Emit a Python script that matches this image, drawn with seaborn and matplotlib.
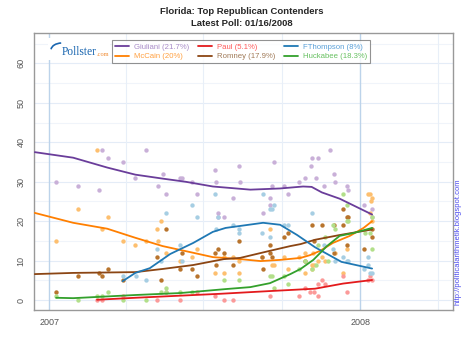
import pandas as pd
import numpy as np
import matplotlib
matplotlib.use("Agg")
import matplotlib.pyplot as plt
import matplotlib.dates as mdates
from matplotlib.lines import Line2D
from matplotlib.patches import Arc, Rectangle
import seaborn as sns

# poll results: day offsets from 2007-01-01 and values (%)
giuliani_days = [8, 34, 58, 62, 69, 86, 101, 113, 133, 128, 137, 154, 156, 167, 173, 195, 196, 198, 205, 198,
                 223, 224, 216, 264, 262, 259, 275, 280, 293, 300, 309, 307, 259, 251, 316, 329, 313, 323,
                 334, 336, 349, 351, 370, 379, 379]
giuliani_vals = [30, 29, 28, 38, 36, 35, 31, 38, 32, 29, 27, 31, 31, 30, 27, 33, 30, 22, 21, 21,
                 34, 30, 26, 35, 29, 26, 29, 27, 30, 31, 36, 34, 24, 22, 36, 38, 31, 29,
                 32, 30, 29, 28, 24, 21, 23]

mccain_days = [56, 34, 69, 8, 62, 86, 101, 113, 127, 131, 128, 137, 154, 173, 167, 195, 205, 205, 216, 223,
               223, 250, 259, 262, 264, 275, 280, 300, 293, 309, 311, 374, 377, 379, 378, 377, 300, 310,
               316, 320, 336, 309, 324, 345, 350, 379]
mccain_vals = [38, 23, 21, 15, 18, 15, 14, 15, 18, 20, 15, 12, 10, 13, 11, 7, 7, 11, 11, 10,
               7, 11, 18, 9, 9, 11, 8, 7, 11, 9, 9, 27, 27, 26, 25, 22, 12, 12,
               10, 11, 12, 8, 10, 7, 13, 20]

paul_days = [56, 62, 86, 127, 137, 154, 173, 195, 205, 216, 259, 293, 311, 315, 320, 324, 316, 306,
             345, 350, 374, 377, 379, 300]
paul_vals = [0, 0, 1, 0, 2, 0, 2, 1, 0, 0, 1, 1, 2, 4, 5, 4, 1, 2,
             6, 2, 5, 6, 5, 3]

romney_days = [8, 34, 58, 69, 62, 86, 137, 127, 131, 156, 154, 167, 173, 195, 198, 196, 205, 223, 216, 250,
               259, 259, 262, 251, 275, 280, 300, 309, 311, 320, 334, 345, 349, 351, 345, 350, 370, 379,
               379, 334]
romney_vals = [2, 6, 7, 8, 6, 5, 18, 11, 5, 12, 8, 8, 6, 12, 13, 9, 12, 15, 9, 11,
               14, 12, 11, 8, 16, 17, 10, 19, 15, 19, 19, 23, 21, 21, 19, 14, 13, 16,
               18, 12]

thompson_days = [86, 137, 102, 113, 127, 131, 154, 156, 167, 173, 195, 198, 196, 216, 223, 223, 251, 259,
                 262, 264, 259, 250, 275, 280, 309, 322, 333, 336, 345, 349, 351, 374, 374, 379, 377, 370]
thompson_vals = [6, 22, 6, 5, 13, 10, 14, 10, 24, 21, 27, 21, 18, 19, 18, 17, 27, 23,
                 23, 24, 16, 17, 19, 19, 22, 14, 13, 10, 11, 10, 10, 11, 9, 7, 7, 8]

huckabee_days = [8, 34, 56, 62, 69, 86, 137, 137, 131, 113, 154, 167, 205, 223, 259, 262, 264, 275, 280,
                 293, 300, 309, 345, 349, 349, 351, 333, 336, 324, 316, 313, 327, 371, 377, 379, 379]
huckabee_vals = [1, 0, 1, 1, 2, 0, 3, 2, 2, 0, 2, 2, 5, 5, 6, 6, 3, 6, 4,
                 8, 10, 8, 27, 24, 20, 20, 19, 18, 16, 14, 9, 10, 17, 17, 13, 21]

# trend estimates
giuliani_trend_days = [-17, 28, 68, 101, 133, 160, 192, 236, 271, 298, 308, 320, 341, 379]
giuliani_trend_vals = [37.5, 36.1, 33.6, 31.8, 30.8, 30.0, 28.8, 28.0, 28.3, 28.8, 28.7, 27.3, 25.7, 21.7]
mccain_trend_days = [-17, 28, 68, 101, 133, 169, 192, 224, 248, 271, 295, 306, 318, 333, 353, 369, 379]
mccain_trend_vals = [22.1, 19.6, 18.1, 15.8, 13.7, 12.0, 10.9, 10.4, 9.9, 10.2, 10.7, 11.4, 12.5, 14.5, 16.3, 18.3, 20.0]
paul_trend_days = [56, 101, 200, 259, 312, 345, 379]
paul_trend_vals = [0.1, 0.6, 1.6, 2.3, 2.9, 4.2, 5.1]
romney_trend_days = [-17, 28, 101, 133, 169, 205, 224, 259, 283, 295, 312, 341, 379]
romney_trend_vals = [6.6, 6.9, 7.1, 7.9, 8.9, 10.4, 10.7, 12.5, 13.7, 14.2, 15.3, 16.5, 17.9]
thompson_trend_days = [86, 101, 118, 142, 169, 192, 207, 224, 251, 271, 291, 312, 343, 379]
thompson_trend_vals = [4.8, 6.9, 8.1, 11.7, 14.5, 17.3, 18.3, 18.8, 19.6, 19.1, 16.5, 13.4, 9.7, 8.0]
huckabee_trend_days = [8, 28, 101, 154, 207, 236, 259, 283, 295, 310, 326, 341, 357, 379]
huckabee_trend_vals = [0.6, 0.5, 1.3, 1.8, 2.8, 3.3, 4.3, 6.6, 7.9, 10.2, 13.7, 16.3, 17.0, 18.3]

labels = ["Giuliani (21.7%)", "McCain (20%)", "Paul (5.1%)", "Romney (17.9%)",
          "FThompson (8%)", "Huckabee (18.3%)"]
line_colors = ["#6a3d9a", "#ff7f00", "#e31a1c", "#8b4513", "#1f78b4", "#33a02c"]
point_colors = ["#c9b0d8", "#fdbf6f", "#fb9a99", "#b8742d", "#a6cee3", "#b2df8a"]
text_colors = ["#a88cc8", "#ffa040", "#ff5a5a", "#a07a58", "#5aa0d8", "#66c060"]

base = pd.Timestamp("2007-01-01")


def to_dates(days):
    return base + pd.to_timedelta(days, unit="D")


points = [(giuliani_days, giuliani_vals), (mccain_days, mccain_vals), (paul_days, paul_vals),
          (romney_days, romney_vals), (thompson_days, thompson_vals), (huckabee_days, huckabee_vals)]
trends = [(giuliani_trend_days, giuliani_trend_vals), (mccain_trend_days, mccain_trend_vals),
          (paul_trend_days, paul_trend_vals), (romney_trend_days, romney_trend_vals),
          (thompson_trend_days, thompson_trend_vals), (huckabee_trend_days, huckabee_trend_vals)]

sns.set_style("white")
plt.rcParams['font.family'] = ['Liberation Sans', 'DejaVu Sans']

fig = plt.figure(figsize=(4.70, 3.52), dpi=100)
ax = fig.add_axes([34 / 470, 1 - 310 / 352, 419 / 470, 277 / 352])

# grid
for v in range(0, 70, 5):
    ax.axhline(v, color="#e4ecf7" if v % 10 == 0 else "#f0f4fa", lw=0.8, zorder=0)
for q in pd.date_range("2006-10-01", "2008-07-01", freq="QS"):
    if q.month == 1:
        ax.axvline(q, color="#bcd3ea", lw=1.0, zorder=0)
    else:
        ax.axvline(q, color="#e8eff8", lw=0.8, zorder=0)

for (d, v), c in zip(points, point_colors):
    sns.scatterplot(x=to_dates(d), y=v, ax=ax, color=c, s=10, linewidth=0, zorder=2)
for (d, v), c in zip(trends, line_colors):
    sns.lineplot(x=to_dates(d), y=v, ax=ax, color=c, lw=1.3, zorder=3)

ax.set_xlim(pd.Timestamp("2006-12-14"), pd.Timestamp("2008-04-19"))
ax.set_ylim(-2.5, 67.7)
ax.set_yticks(range(0, 70, 10))
ax.set_xticks([pd.Timestamp("2007-01-01"), pd.Timestamp("2008-01-01")])
ax.xaxis.set_major_formatter(mdates.DateFormatter("%Y"))
ax.tick_params(axis="both", direction="out", length=4, width=0.8, color="#888888",
               labelcolor="#555555", labelsize=6.5, pad=2)
for lab in ax.get_yticklabels():
    lab.set_rotation(90)
    lab.set_va("center")
ax.set_xlabel("")
ax.set_ylabel("")
for sp in ax.spines.values():
    sp.set_color("#999999")
    sp.set_linewidth(1.0)

handles = [Line2D([0], [0], color=c, lw=1.3) for c in line_colors]
leg = ax.legend(handles, labels, ncol=3, loc="upper left",
                bbox_to_anchor=((112 - 34) / 419, (310 - 40) / 277), borderaxespad=0,
                frameon=True, fancybox=False, fontsize=5.6, handlelength=1.8,
                handletextpad=0.6, columnspacing=1.15, labelspacing=0.3,
                borderpad=0.4, labelcolor=text_colors)
leg.get_frame().set_edgecolor("#777777")
leg.get_frame().set_linewidth(0.8)

# logo
fig.add_artist(Rectangle((48 / 470, 1 - 60 / 352), 62 / 470, 22 / 352, facecolor="white",
                         edgecolor="none", transform=fig.transFigure, zorder=5))
fig.text(62 / 470, 1 - 52 / 352, "Pollster", color="#1a66b0", fontsize=8.3,
         family="Liberation Serif", va="center", ha="left", zorder=6)
fig.text(96.5 / 470, 1 - 54 / 352, ".com", color="#f08a30", fontsize=4.6,
         family="Liberation Serif", va="center", ha="left", zorder=6)
fig.add_artist(Arc((62 / 470, 1 - 50 / 352), 22 / 470, 14 / 352, theta1=95, theta2=175,
                   color="#1a66b0", lw=1.2, transform=fig.transFigure, zorder=6))

fig.text(0.515, 1 - 12 / 352, "Florida: Top Republican Contenders", ha="center", va="center",
         fontsize=6.8, fontweight="bold")
fig.text(0.515, 1 - 23 / 352, "Latest Poll: 01/16/2008", ha="center", va="center",
         fontsize=6.8, fontweight="bold")
fig.text(458 / 470, 1 - 242 / 352, "http://politicalarithmetik.blogspot.com", rotation=90,
         ha="center", va="center", fontsize=5.5, color="#4a4aee")

fig.savefig("out.png", dpi=100)
